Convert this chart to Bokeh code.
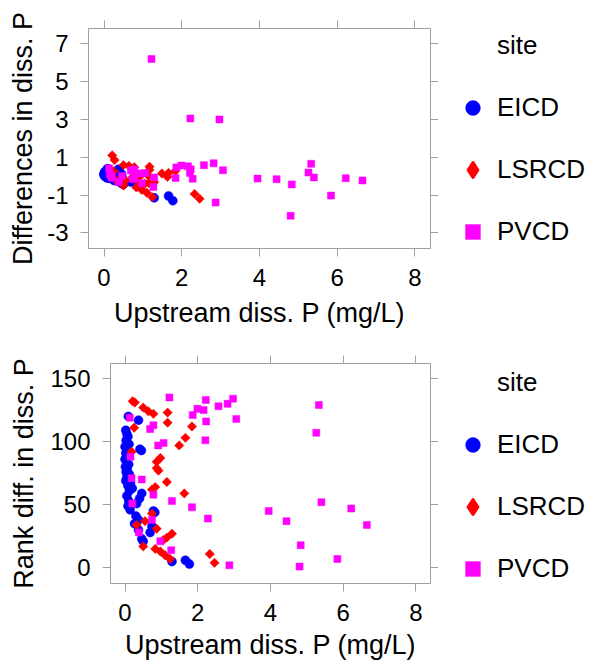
import math
from bokeh.plotting import figure
from bokeh.layouts import column, row
from bokeh.models import Range1d, FixedTicker, LinearAxis, Legend, LegendItem, CustomJSTickFormatter
from bokeh.embed import file_html
from bokeh.resources import INLINE

# ---------------- data ----------------
sites = ["EICD", "LSRCD", "PVCD"]

eicd_x = [0.09, 0.37, 0.02, 0.05, 0.08, 0.03, 0.11, 0.00, 0.41, 0.45, 0.02, 0.06, 0.00, 0.04, 0.10,
          0.01, 0.06, 0.03, 0.12, 0.05, 0.02, 0.15, 0.08, 0.20, 0.12, 0.46, 0.05, 0.40, 0.10, 0.32,
          0.08, 0.14, 0.78, 0.82, 0.30, 0.37, 0.26, 0.74, 0.37, 0.69, 0.46, 0.50, 1.66, 1.29, 1.77]
eicd_diff = [0.40, 0.36, 0.24, 0.20, 0.18, 0.16, 0.14, 0.13, 0.12, 0.11, 0.10, 0.08, 0.07, 0.06, 0.05,
             0.04, 0.03, 0.02, 0.01, 0.00, -0.01, -0.02, -0.03, -0.03, -0.04, -0.04, -0.05, -0.06, -0.07, -0.09,
             -0.10, -0.12, -0.13, -0.14, -0.17, -0.20, -0.23, -0.26, -0.29, -0.31, -0.40, -0.43, -1.05, -1.15, -1.30]
eicd_rank = [120, 117, 109, 106, 104, 101, 98, 96, 94, 93, 91, 88, 86, 84, 82,
             80, 78, 76, 74, 72, 69, 67, 65, 63, 61, 59, 57, 55, 53, 51,
             49, 46, 45, 44, 41, 38, 35, 33, 30, 28, 23, 21, 6, 5, 3]

lsrcd_x = [0.21, 0.27, 0.50, 0.64, 1.17, 0.78, 1.17, 1.84, 0.25, 1.66, 1.49, 0.18, 0.97, 0.87, 0.87,
           0.92, 1.15, 0.83, 0.74, 1.63, 0.74, 0.55, 0.32, 0.87, 1.29, 1.15, 1.05, 0.50, 0.83, 0.97,
           2.33, 1.10, 1.24, 2.46]
lsrcd_diff = [1.10, 0.85, 0.58, 0.54, 0.50, 0.47, 0.33, 0.28, 0.26, 0.17, 0.14, 0.10, 0.08, 0.06, 0.04,
              0.03, 0.00, -0.02, -0.03, -0.04, -0.14, -0.22, -0.24, -0.28, -0.32, -0.37, -0.40, -0.50, -0.60, -0.72,
              -0.94, -0.88, -1.11, -1.20]
lsrcd_rank = [132, 131, 127, 124, 123, 122, 115, 112, 111, 103, 97, 92, 87, 84, 79,
              77, 68, 64, 62, 59, 43, 37, 34, 31, 27, 24, 22, 17, 15, 13,
              11, 10, 7, 4]

pvcd_x = [1.22, 2.97, 2.22, 2.82, 5.33, 2.57, 1.99, 2.16, 1.86, 0.13, 3.06, 2.23, 0.78, 0.69, 5.26,
          2.21, 1.06, 0.91, 0.15, 0.18, 0.46, 0.78, 1.29, 5.40, 0.20, 1.84, 6.22, 3.95, 2.28, 0.74,
          4.44, 6.65, 0.38, 0.97, 4.83, 1.27, 5.84, 2.87, 4.80]
pvcd_diff = [6.20, 3.00, 3.05, 0.68, 0.65, 0.58, 0.56, 0.52, 0.46, 0.42, 0.31, 0.36, 0.35, 0.30, 0.19,
             0.17, 0.16, 0.14, 0.10, 0.01, 0.00, -0.10, -0.07, -0.07, -0.09, -0.10, -0.11, -0.13, -0.14, -0.15,
             -0.16, -0.23, -0.30, -0.38, -0.44, -0.58, -1.03, -1.40, -2.10]
pvcd_rank = [135, 134, 133, 130, 129, 128, 126, 125, 121, 119, 118, 116, 113, 110, 107,
             101, 99, 97, 88, 71, 70, 58, 53, 52, 51, 48, 47, 45, 39, 38,
             37, 34, 28, 21, 18, 14, 7, 2, 1]

x_ticks = [0, 2, 4, 6, 8]
diff_ticks = [-3, -1, 1, 3, 5, 7]
rank_ticks = [0, 50, 100, 150]

# ---------------- styling ----------------
FONT = "Liberation Sans"
GREY = "#a0a0a0"
colors = {"EICD": "#0000ff", "LSRCD": "#ff0000", "PVCD": "#ff00ff"}
markers = {"EICD": ("circle", 9, 0.0), "LSRCD": ("square", 6.6, math.pi / 4), "PVCD": ("square", 7, 0.0)}
legend_markers = {"EICD": ("circle", 0.5), "LSRCD": ("diamond", 3.0), "PVCD": ("square", 0.5)}
plain = CustomJSTickFormatter(code="return String(tick)")
blank = CustomJSTickFormatter(code="return ''")

MAIN_W = 438
LEG_W = 595 - MAIN_W
H = 336


def style_axis(ax, show_labels=True):
    ax.axis_line_color = None
    ax.major_tick_line_color = GREY
    ax.major_tick_out = 8
    ax.major_tick_in = 0
    ax.minor_tick_line_color = None
    ax.major_label_text_font = FONT
    ax.major_label_text_color = "#000000"
    ax.major_label_text_font_size = "24px"
    if show_labels:
        ax.formatter = plain
        ax.major_label_standoff = 12
        ax.axis_label_text_font = FONT
        ax.axis_label_text_font_size = "27px"
        ax.axis_label_text_font_style = "normal"
        ax.axis_label_text_color = "#000000"
    else:
        ax.formatter = blank
        ax.major_label_standoff = 0


def make_panel(ydata, y_range, yticks, ylabel, left, top, bottom, xlab_standoff, ylab_standoff, leg_y):
    p = figure(width=MAIN_W, height=H, output_backend="svg", toolbar_location=None,
               x_range=Range1d(-0.4, 8.4), y_range=Range1d(*y_range),
               min_border_left=left, min_border_right=MAIN_W - 430, min_border_top=top,
               min_border_bottom=bottom)
    p.grid.visible = False
    p.outline_line_color = GREY
    p.outline_line_width = 1
    p.background_fill_color = "white"
    p.border_fill_color = "white"

    style_axis(p.xaxis[0])
    p.xaxis[0].ticker = FixedTicker(ticks=x_ticks)
    p.xaxis[0].axis_label = "Upstream diss. P (mg/L)"
    p.xaxis[0].axis_label_standoff = xlab_standoff
    style_axis(p.yaxis[0])
    p.yaxis[0].ticker = FixedTicker(ticks=yticks)
    p.yaxis[0].axis_label = ylabel
    p.yaxis[0].axis_label_standoff = ylab_standoff

    top_ax = LinearAxis(ticker=FixedTicker(ticks=x_ticks))
    style_axis(top_ax, show_labels=False)
    p.add_layout(top_ax, "above")
    right_ax = LinearAxis(ticker=FixedTicker(ticks=yticks))
    style_axis(right_ax, show_labels=False)
    p.add_layout(right_ax, "right")

    xs = {"EICD": eicd_x, "LSRCD": lsrcd_x, "PVCD": pvcd_x}
    for s in sites:
        m, sz, ang = markers[s]
        p.scatter(x=xs[s], y=ydata[s], marker=m, size=sz, angle=ang,
                  fill_color=colors[s], line_color=colors[s], line_width=0.5)

    # legend in its own small figure to the right (its ranges keep the data out of view)
    lg = figure(width=LEG_W, height=H, output_backend="svg", toolbar_location=None,
                x_axis_location=None, y_axis_location=None,
                x_range=Range1d(100, 101), y_range=Range1d(100, 101),
                min_border=0, min_border_left=0, min_border_right=0,
                min_border_top=0, min_border_bottom=0)
    lg.grid.visible = False
    lg.outline_line_color = None
    lg.border_fill_color = "white"
    lg.background_fill_color = "white"
    dummy = lg.scatter(x=xs["EICD"][:1], y=ydata["EICD"][:1], size=1, fill_alpha=0, line_alpha=0)
    items = [LegendItem(label="site", renderers=[dummy])]
    for s in sites:
        lm, lw = legend_markers[s]
        r = lg.scatter(x=xs[s], y=ydata[s], marker=lm, size=8,
                       fill_color=colors[s], line_color=colors[s], line_width=lw,
                       line_join="round")
        items.append(LegendItem(label=s, renderers=[r]))
    legend = Legend(items=items, location=(454 - MAIN_W, leg_y), orientation="vertical",
                    glyph_width=37, glyph_height=37, label_height=37, spacing=25,
                    padding=0, margin=0, label_standoff=6,
                    border_line_color=None, background_fill_alpha=0,
                    label_text_font=FONT, label_text_font_size="26px",
                    label_text_color="#000000")
    lg.add_layout(legend)
    return row(p, lg, spacing=0)


r1 = make_panel({"EICD": eicd_diff, "LSRCD": lsrcd_diff, "PVCD": pvcd_diff},
                (-3.83, 7.81), diff_ticks, "Differences in diss. P",
                left=88, top=28, bottom=88, xlab_standoff=9, ylab_standoff=6, leg_y=-1.5)
r2 = make_panel({"EICD": eicd_rank, "LSRCD": lsrcd_rank, "PVCD": pvcd_rank},
                (-12.4, 161.9), rank_ticks, "Rank diff. in diss. P",
                left=110, top=27, bottom=89, xlab_standoff=6, ylab_standoff=8, leg_y=-4)

layout = column(r1, r2, spacing=0)
open("out.html", "w").write(file_html(layout, INLINE))
